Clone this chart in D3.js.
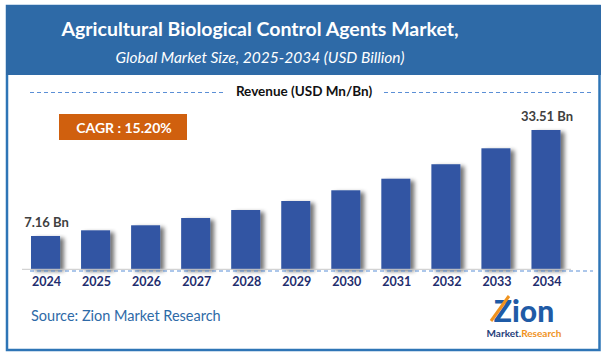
<!DOCTYPE html>
<html>
<head>
<meta charset="utf-8">
<script src="https://cdn.jsdelivr.net/npm/d3@7"></script>
<style>
html,body{margin:0;padding:0;background:#fff;}
svg{display:block;}
text{font-family:Lato,"Open Sans",sans-serif;}
</style>
</head>
<body>
<svg id="chart" width="607" height="357"></svg>
<script>
const years = ["2024","2025","2026","2027","2028","2029","2030","2031","2032","2033","2034"];
const revenue = [7.16, 8.57, 9.82, 11.63, 13.62, 15.86, 18.52, 21.4, 25.0, 28.96, 33.51];
const valueLabels = ["7.16 Bn", "", "", "", "", "", "", "", "", "", "33.51 Bn"];
const titleText = "Agricultural Biological Control Agents Market,";
const subtitleText = "Global Market Size, 2025-2034 (USD Billion)";
const legendText = "Revenue (USD Mn/Bn)";
const cagrText = "CAGR : 15.20%";
const sourceText = "Source: Zion Market Research";

const svg = d3.select("#chart");

// defs: shadow
const defs = svg.append("defs");
const f = defs.append("filter").attr("id","shadow").attr("x","-20%").attr("y","-10%").attr("width","160%").attr("height","130%");
f.append("feGaussianBlur").attr("in","SourceAlpha").attr("stdDeviation",2).attr("result","b");
f.append("feOffset").attr("in","b").attr("dx",4).attr("dy",2).attr("result","o");
f.append("feComponentTransfer").attr("in","o").attr("result","o2")
  .append("feFuncA").attr("type","linear").attr("slope",0.55);
const m = f.append("feMerge");
m.append("feMergeNode").attr("in","o2");
m.append("feMergeNode").attr("in","SourceGraphic");

// frame + header
svg.append("rect").attr("x",7).attr("y",6).attr("width",592.5).attr("height",344)
  .attr("fill","#fff").attr("stroke","#2e75b6").attr("stroke-width",2.5);
svg.append("rect").attr("x",6).attr("y",5).attr("width",595).attr("height",70).attr("fill","#2e6aa7");

svg.append("text").attr("x",260).attr("y",36).attr("text-anchor","middle")
  .attr("fill","#fff").attr("font-size",19.5).attr("font-weight","bold").text(titleText);
svg.append("text").attr("x",260).attr("y",63).attr("text-anchor","middle")
  .attr("fill","#fff").attr("font-size",15.5).attr("font-style","italic").text(subtitleText);

// legend
svg.append("line").attr("x1",30).attr("x2",224).attr("y1",92.5).attr("y2",92.5)
  .attr("stroke","#5b8fd6").attr("stroke-width",1).attr("stroke-dasharray","4,3");
svg.append("line").attr("x1",384).attr("x2",593).attr("y1",92.5).attr("y2",92.5)
  .attr("stroke","#5b8fd6").attr("stroke-width",1).attr("stroke-dasharray","4,3");
svg.append("text").attr("x",304).attr("y",96).attr("text-anchor","middle")
  .attr("fill","#111").attr("font-size",13.5).attr("font-weight","bold").text(legendText);

// CAGR
svg.append("rect").attr("x",59).attr("y",114).attr("width",128).attr("height",26).attr("fill","#d0600e");
svg.append("text").attr("x",124).attr("y",133).attr("text-anchor","middle")
  .attr("fill","#fff").attr("font-size",14).attr("font-weight","bold").text(cagrText);

// scales
const baseY = 269.3;
const x = d3.scaleBand().domain(years).range([20.5, 571]).paddingInner(0.42).paddingOuter(0.21);
const y = d3.scaleLinear().domain([0, 33.51]).range([baseY - 4.5, 130]);

// bars
svg.append("g").selectAll("rect").data(years).join("rect")
  .attr("x", d => x(d)).attr("width", x.bandwidth())
  .attr("y", (d,i) => y(revenue[i])).attr("height", (d,i) => baseY - y(revenue[i]))
  .attr("fill","#3155a3").attr("filter","url(#shadow)");

// value labels
svg.append("g").selectAll("text").data(years).join("text")
  .attr("x", d => x(d) + x.bandwidth()/2 + 1)
  .attr("y", (d,i) => y(revenue[i]) - 9)
  .attr("text-anchor","middle").attr("fill","#404040").attr("font-size",13).attr("font-weight","bold")
  .text((d,i) => valueLabels[i]);

// baseline
svg.append("line").attr("x1",22).attr("x2",571).attr("y1",baseY).attr("y2",baseY)
  .attr("stroke","#c8c8c8").attr("stroke-width",1);
svg.append("line").attr("x1",30).attr("x2",593).attr("y1",271).attr("y2",271)
  .attr("stroke","#5b8fd6").attr("stroke-width",1).attr("stroke-dasharray","4,3");

// x axis
const xAxis = svg.append("g").attr("transform",`translate(0,${baseY})`).call(d3.axisBottom(x).tickSize(0).tickPadding(8));
xAxis.select(".domain").remove();
xAxis.selectAll("text").attr("font-family","Lato,'Open Sans',sans-serif").attr("font-size",12.5)
  .attr("font-weight","bold").attr("fill","#1f2e6e").attr("dx",1);

// source
svg.append("text").attr("x",31).attr("y",321).attr("fill","#2e6aa7").attr("font-size",14.5).text(sourceText);

// logo
const logo = svg.append("g");
logo.append("text").attr("x",524).attr("y",322).attr("text-anchor","middle")
  .attr("fill","#1f5ba6").attr("font-size",30).attr("font-weight","900").text("Zion");
logo.append("line").attr("x1",491).attr("y1",321).attr("x2",509).attr("y2",296)
  .attr("stroke","#f0931e").attr("stroke-width",3);
logo.append("text").attr("x",524).attr("y",337).attr("text-anchor","middle").attr("font-size",10).attr("font-weight","bold")
  .call(t => { t.append("tspan").attr("fill","#1f3e7a").text("Market."); t.append("tspan").attr("fill","#f0931e").text("Research"); });
</script>
</body>
</html>
